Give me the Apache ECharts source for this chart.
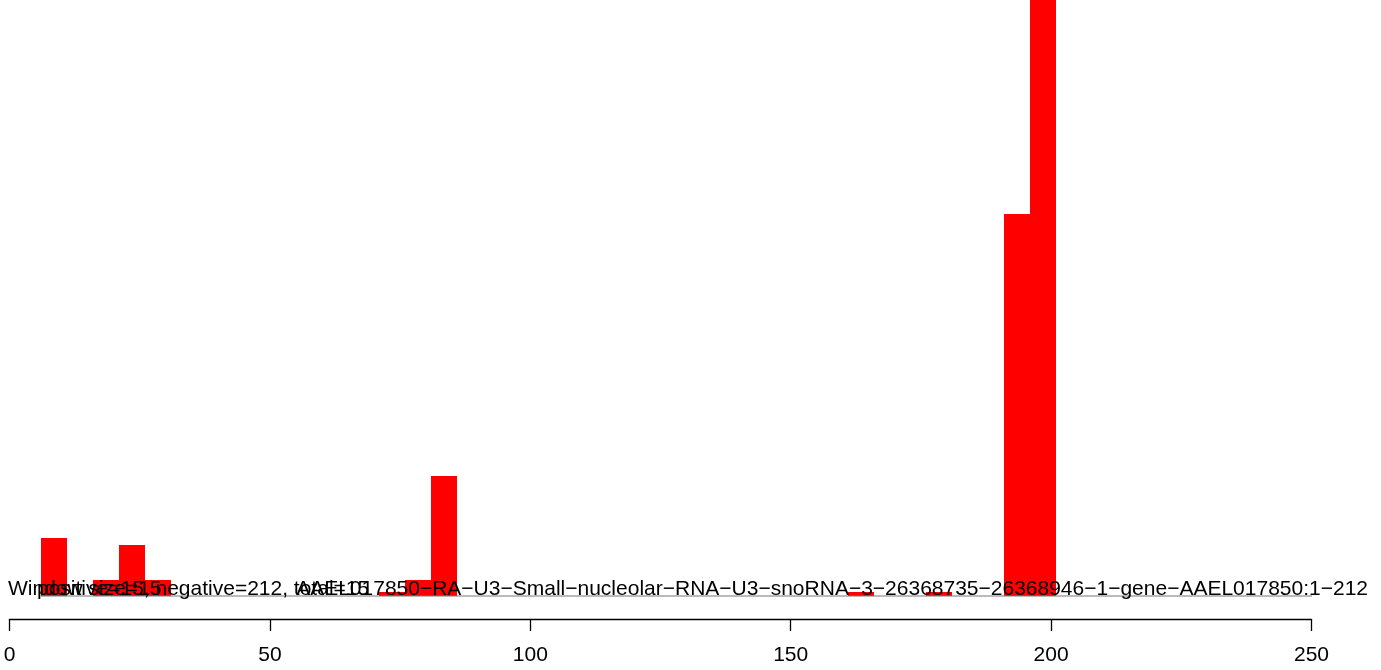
<!DOCTYPE html>
<html>
<head>
<meta charset="utf-8">
<script src="https://cdn.jsdelivr.net/npm/echarts@6/dist/echarts.min.js"></script>
<style>
html,body{margin:0;padding:0;background:#fff;}
#chart{width:1381px;height:670px;}
</style>
</head>
<body>
<div id="chart"></div>
<script>
// Bins (data units along the sequence position axis)
const binStarts = [6, 16, 21, 26, 71, 76, 81, 161, 176, 191, 196];
const binEnds   = [11, 21, 26, 31, 76, 81, 86, 166, 181, 196, 201];
const counts    = [14.6, 4, 12.75, 4, 0.9, 4, 30, 0.9, 0.9, 95.5, 160];
// Baseline segment (gray)
const baselineX = [6, 261];
const baselineY = [0, 0];
// Axis ticks
const xTicks = [0, 50, 100, 150, 200, 250];
// Texts
const textWindow = 'Window size=15';
const textCounts = 'positive=15, negative=212, total=15';
const textName = 'AAEL017850\u2212RA\u2212U3\u2212Small\u2212nucleolar\u2212RNA\u2212U3\u2212snoRNA\u22123\u221226368735\u221226368946\u22121\u2212gene\u2212AAEL017850:1\u2212212';

const barData = binStarts.map((s, i) => [s, binEnds[i], counts[i]]);
const lineData = baselineX.map((x, i) => [x, baselineY[i]]);
const FONT = '"Liberation Sans", Arial, sans-serif';

const chart = echarts.init(document.getElementById('chart'), null, {renderer: 'canvas'});
chart.setOption({
  animation: false,
  backgroundColor: '#ffffff',
  grid: [
    {left: 9.5, right: 69.5, top: 0, bottom: 74},
    {left: 9.5, right: 69.5, top: 0, bottom: 51}
  ],
  xAxis: [
    {
      type: 'value', gridIndex: 0, min: xTicks[0], max: xTicks[xTicks.length - 1], interval: 50,
      show: false, splitLine: {show: false}
    },
    {
      type: 'value', gridIndex: 1, min: xTicks[0], max: xTicks[xTicks.length - 1], interval: 50,
      axisLine: {show: true, lineStyle: {color: '#000', width: 1.3}},
      axisTick: {show: true, inside: false, length: 12, lineStyle: {color: '#000', width: 1.3}},
      axisLabel: {show: true, color: '#000', fontSize: 21, fontFamily: FONT, margin: 26},
      splitLine: {show: false}
    }
  ],
  yAxis: [
    {type: 'value', gridIndex: 0, min: 0, max: 149, show: false, splitLine: {show: false}},
    {type: 'value', gridIndex: 1, min: 0, max: 1, show: false, splitLine: {show: false}}
  ],
  series: [
    {
      type: 'custom',
      xAxisIndex: 0, yAxisIndex: 0,
      clip: true,
      data: barData,
      renderItem: function (params, api) {
        const p0 = api.coord([api.value(0), api.value(2)]);
        const p1 = api.coord([api.value(1), 0]);
        const x0 = Math.round(p0[0]), x1 = Math.round(p1[0]);
        const y0 = Math.round(p0[1]), y1 = Math.round(p1[1]);
        return {
          type: 'rect',
          shape: {x: x0, y: y0, width: x1 - x0, height: y1 - y0},
          style: {fill: '#ff0000', stroke: null}
        };
      },
      z: 2
    },
    {
      type: 'line',
      xAxisIndex: 0, yAxisIndex: 0,
      data: lineData,
      clip: false,
      symbol: 'none',
      lineStyle: {color: '#777', width: 1},
      z: 3
    }
  ],
  graphic: [
    {type: 'text', z: 100, style: {x: 8, y: 600, text: textWindow, fill: '#000', font: '21px ' + FONT, verticalAlign: 'bottom', align: 'left'}},
    {type: 'text', z: 100, style: {x: 37, y: 600, text: textCounts, fill: '#000', font: '21px ' + FONT, verticalAlign: 'bottom', align: 'left'}},
    {type: 'text', z: 100, style: {x: 1368, y: 600, text: textName, fill: '#000', font: '21px ' + FONT, verticalAlign: 'bottom', align: 'right'}}
  ]
});
</script>
</body>
</html>
